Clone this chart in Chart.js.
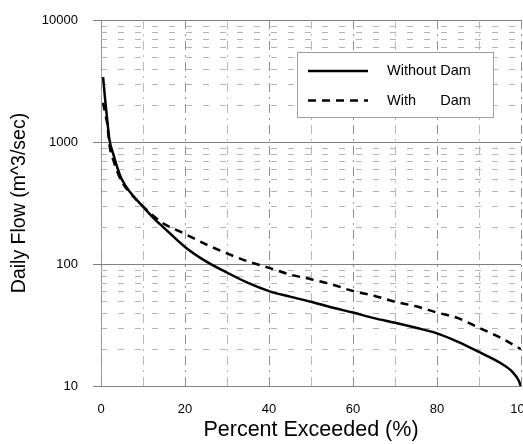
<!DOCTYPE html>
<html><head><meta charset="utf-8">
<script src="https://cdn.jsdelivr.net/npm/chart.js@4"></script>
<style>html,body{margin:0;padding:0;background:#fff}#wrap{width:523px;height:444px}</style>
</head><body><div id="wrap"><canvas id="c" width="523" height="444"></canvas></div>
<script>
const percentWithout = [0.5, 1, 1.5, 2, 3, 4, 5, 7, 10, 13, 15, 20, 25, 30, 35, 40, 45, 50, 55, 60, 65, 70, 75, 80, 85, 90, 95, 98, 99.5, 100];
const withoutDam     = [3400, 2200, 1500, 1050, 780, 600, 490, 385, 295, 229, 198, 138, 105, 85, 70, 60, 54, 49, 44, 40, 36, 33, 30, 27, 23, 19, 15.5, 13, 11, 9.8];
const percentWith    = [0.5, 1, 1.5, 2, 3, 4, 5, 7, 10, 13, 15, 19, 22, 25, 30, 35, 40, 45, 50, 55, 60, 65, 70, 75, 80, 85, 90, 95, 100];
const withDam        = [2100, 1700, 1400, 950, 700, 557, 470, 380, 297, 240, 213, 183, 163, 145, 122, 105, 93, 82, 75, 68, 60, 55, 49, 45, 40, 36, 30, 25, 20];
const xTickLabels = [0, 20, 40, 60, 80, 100];
const yTickLabels = [10, 100, 1000, 10000];
const seriesNames = ['Without Dam', 'With      Dam'];

const FONT = '"Liberation Sans", Arial, sans-serif';

function allLogTicks() {
  const t = [];
  for (let d = 10; d < 10000; d *= 10) for (let m = 1; m < 10; m++) t.push({value: m * d});
  t.push({value: 10000});
  return t;
}

const gridPlugin = {
  id: 'paperGrid',
  beforeDatasetsDraw(chart) {
    const {ctx, chartArea: a, scales: {x, y}} = chart;
    ctx.save();
    allLogTicks().forEach(t => {
      const py = Math.round(y.getPixelForValue(t.value)) + 0.5;
      const major = yTickLabels.includes(t.value);
      ctx.beginPath();
      ctx.lineWidth = 1;
      ctx.strokeStyle = major ? '#808080' : '#b4b4b4';
      ctx.setLineDash(major ? [] : [6, 11]);
      ctx.moveTo(a.left - (major ? 8 : 0), py);
      ctx.lineTo(a.right, py);
      ctx.stroke();
    });
    for (let v = 0; v <= 100; v += 10) {
      const px = Math.round(x.getPixelForValue(v)) + 0.5;
      ctx.beginPath();
      ctx.strokeStyle = (v % 20 === 0) ? '#909090' : '#b8b8b8';
      ctx.setLineDash([9, 5, 2, 5]);
      ctx.moveTo(px, a.top);
      ctx.lineTo(px, a.bottom);
      ctx.stroke();
    }
    ctx.restore();
  }
};

const legendPlugin = {
  id: 'boxLegend',
  afterDatasetsDraw(chart) {
    const {ctx} = chart;
    ctx.save();
    ctx.fillStyle = '#fff';
    ctx.fillRect(297, 52, 196, 66);
    ctx.strokeStyle = '#a0a0a0';
    ctx.lineWidth = 1;
    ctx.setLineDash([]);
    ctx.strokeRect(297.5, 52.5, 196, 65);
    chart.data.datasets.forEach((ds, i) => {
      const yy = 71 + i * 29.5;
      ctx.beginPath();
      ctx.strokeStyle = ds.borderColor;
      ctx.lineWidth = 2.5;
      ctx.setLineDash(ds.borderDash || []);
      ctx.moveTo(308, yy);
      ctx.lineTo(368, yy);
      ctx.stroke();
      ctx.setLineDash([]);
      ctx.fillStyle = '#000';
      ctx.font = '14.5px ' + FONT;
      ctx.textBaseline = 'middle';
      ctx.fillText(ds.label, 387, yy);
    });
    ctx.restore();
  }
};

const toXY = (xs, ys) => xs.map((v, i) => ({x: v, y: ys[i]}));

new Chart(document.getElementById('c'), {
  type: 'line',
  data: {
    datasets: [
      {label: seriesNames[0], data: toXY(percentWithout, withoutDam), borderColor: '#000', borderWidth: 2.5, pointRadius: 0, cubicInterpolationMode: 'monotone', fill: false},
      {label: seriesNames[1], data: toXY(percentWith, withDam), borderColor: '#000', borderWidth: 2.5, borderDash: [8, 6], pointRadius: 0, cubicInterpolationMode: 'monotone', fill: false}
    ]
  },
  options: {
    responsive: false,
    animation: false,
    devicePixelRatio: 1,
    layout: {padding: {top: 20, right: 2, left: 0, bottom: 0}},
    plugins: {legend: {display: false}, tooltip: {enabled: false}},
    scales: {
      x: {
        type: 'linear', min: 0, max: 100,
        afterBuildTicks: s => { s.ticks = xTickLabels.map(v => ({value: v})); },
        ticks: {font: {family: FONT, size: 13}, color: '#000', padding: 16, maxRotation: 0, autoSkip: false},
        grid: {display: false, drawTicks: false},
        border: {display: true, color: '#808080'},
        title: {display: true, text: 'Percent Exceeded (%)', font: {family: FONT, size: 21.5}, color: '#000', padding: {top: 0, bottom: 1}},
        afterFit: s => { s.height = 58; s.paddingLeft = 0; s.paddingRight = 0; }
      },
      y: {
        type: 'logarithmic', min: 10, max: 10000,
        afterBuildTicks: s => { s.ticks = allLogTicks(); },
        ticks: {font: {family: FONT, size: 13}, color: '#000', padding: 23, autoSkip: false,
          callback: v => yTickLabels.includes(v) ? String(v) : ''},
        grid: {display: false, drawTicks: false},
        border: {display: true, color: '#a0a0a0'},
        title: {display: true, text: 'Daily Flow (m^3/sec)', font: {family: FONT, size: 19.5}, color: '#000', padding: {top: 8, bottom: 0}},
        afterFit: s => { s.width = 101; s.paddingTop = 0; s.paddingBottom = 0; }
      }
    }
  },
  plugins: [gridPlugin, legendPlugin]
});
</script>
</body></html>
